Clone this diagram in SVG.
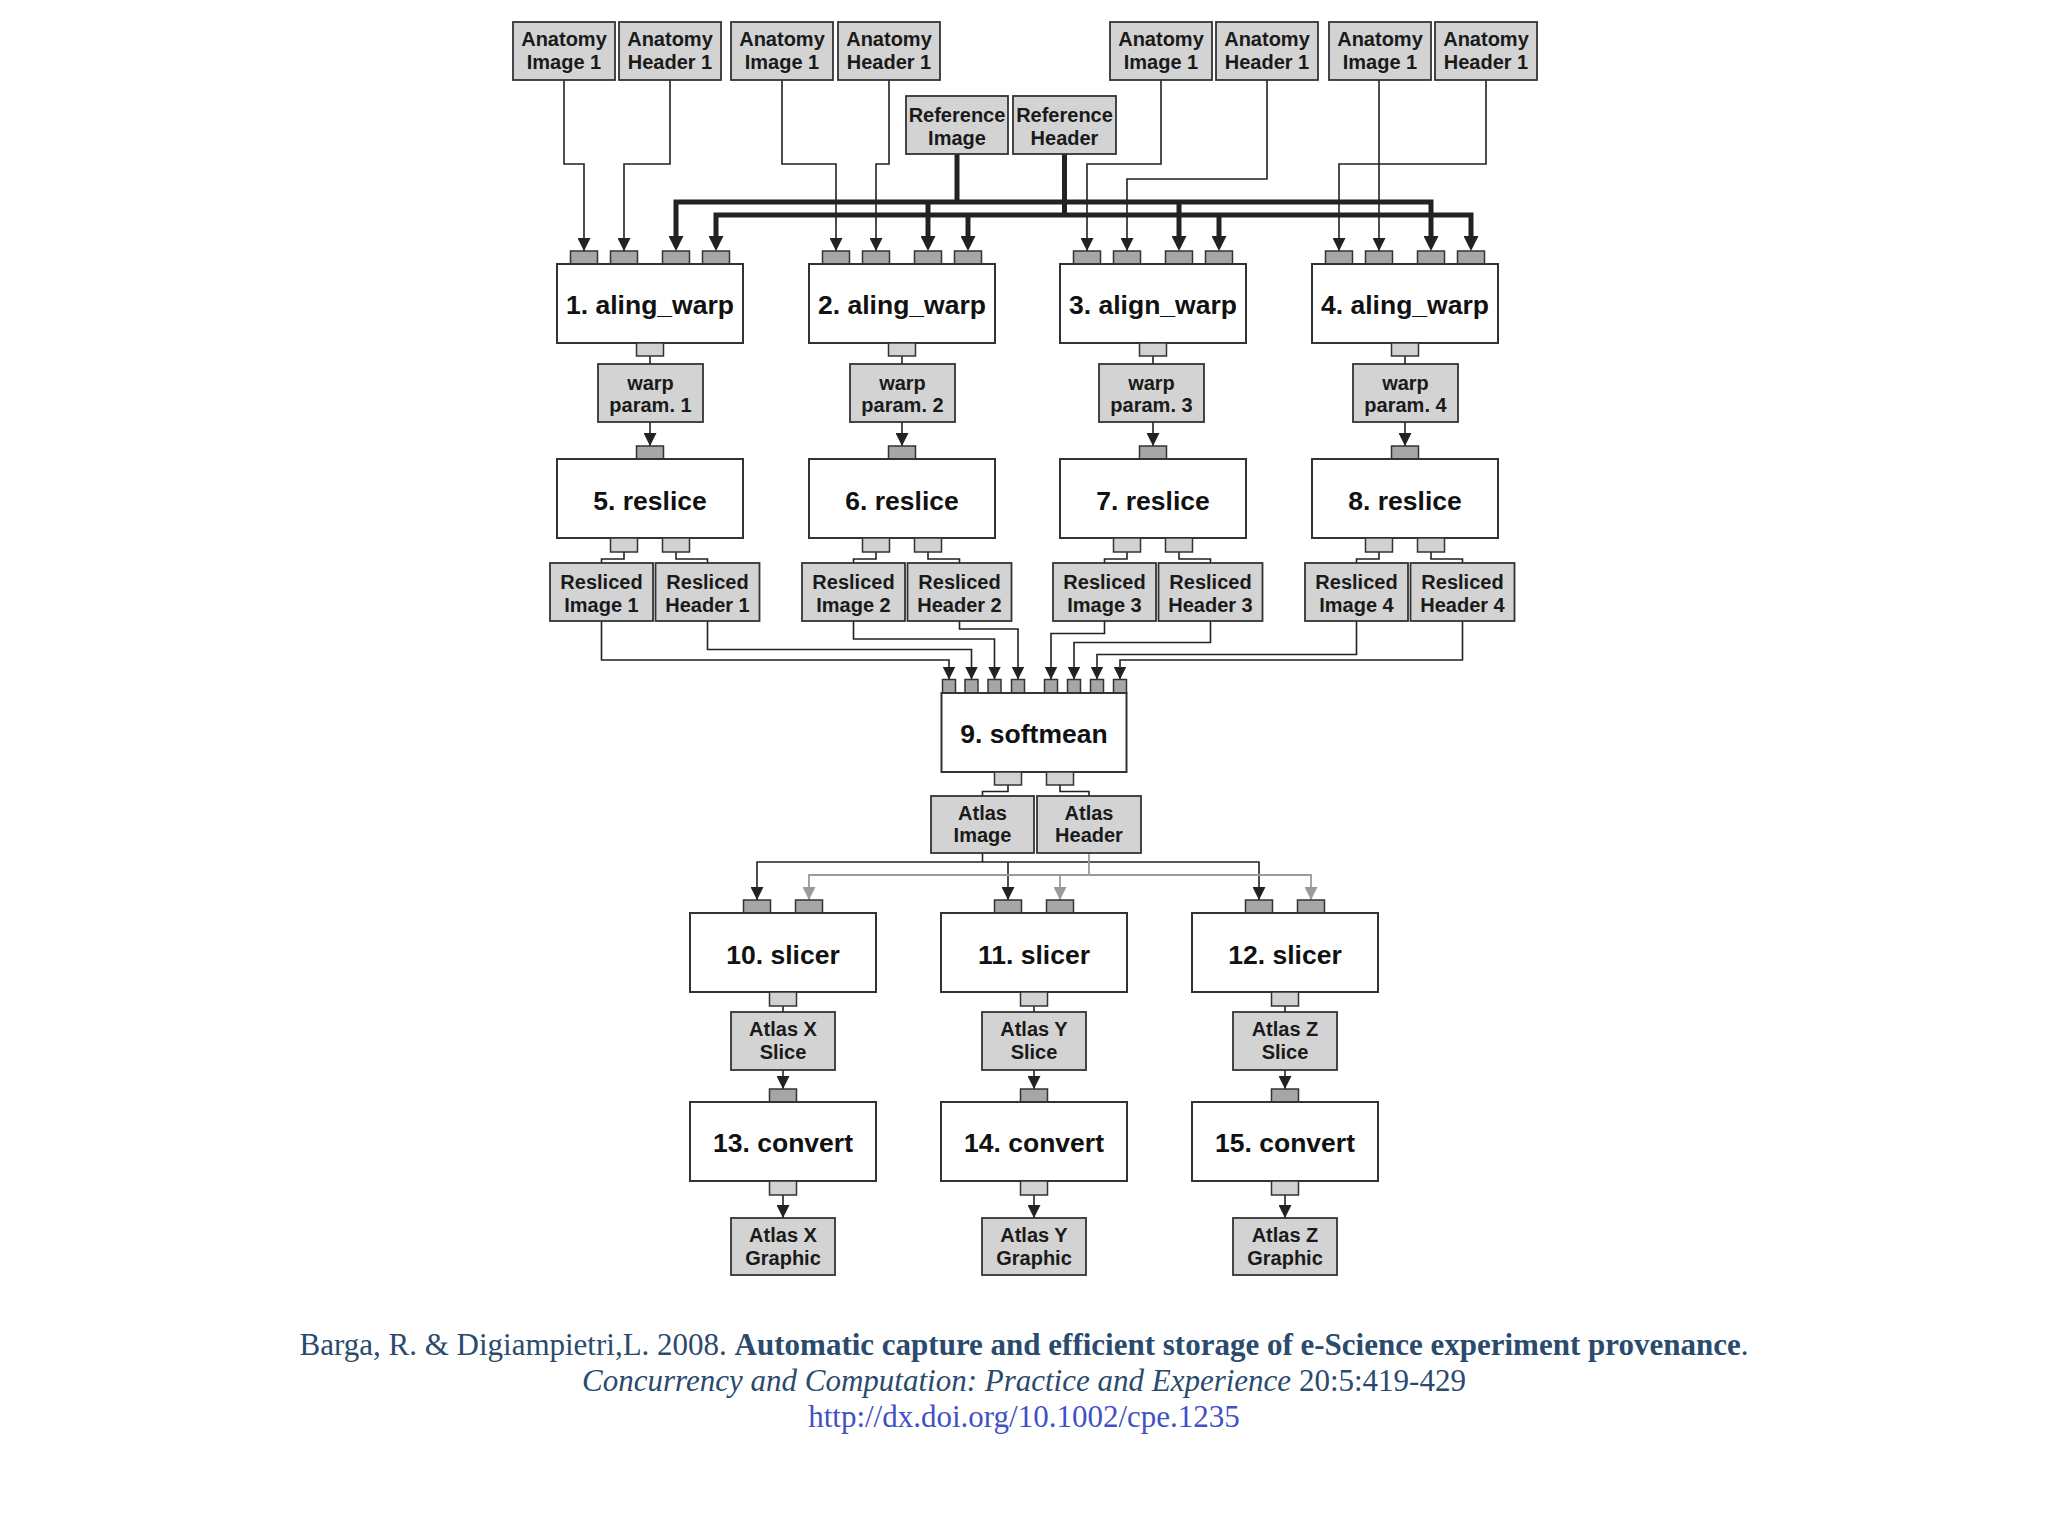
<svg xmlns="http://www.w3.org/2000/svg" width="2048" height="1536" viewBox="0 0 2048 1536">
<style>
.d{fill:#d3d3d3;stroke:#333;stroke-width:1.8}
.p{fill:#fff;stroke:#333;stroke-width:2}
.pi{fill:#a6a6a6;stroke:#333;stroke-width:1.5}
.po{fill:#d2d2d2;stroke:#333;stroke-width:1.5}
.t{font-family:"Liberation Sans",Arial,sans-serif;font-weight:bold;font-size:20px;fill:#1a1a1a;text-anchor:middle}
.n{font-family:"Liberation Sans",Arial,sans-serif;font-weight:bold;font-size:26.5px;fill:#111;text-anchor:middle}
.l{fill:none;stroke:#222;stroke-width:1.6}
.la{fill:none;stroke:#222;stroke-width:1.6;marker-end:url(#a)}
.lb{fill:none;stroke:#222;stroke-width:1.6;marker-start:url(#a);marker-end:url(#a)}
.lt{fill:none;stroke:#222;stroke-width:5}
.lta{fill:none;stroke:#222;stroke-width:5;marker-end:url(#ta)}
.ltb{fill:none;stroke:#222;stroke-width:5;marker-start:url(#ta);marker-end:url(#ta)}
.lg{fill:none;stroke:#9a9a9a;stroke-width:1.8}
.lga{fill:none;stroke:#9a9a9a;stroke-width:1.8;marker-end:url(#ga)}
.lgb{fill:none;stroke:#9a9a9a;stroke-width:1.8;marker-start:url(#ga);marker-end:url(#ga)}
.c{font-family:"Liberation Serif","Times New Roman",serif;font-size:31px;fill:#2a4a6e;text-anchor:middle}
</style>
<defs>
<marker id="a" viewBox="0 0 13 13" refX="13" refY="6.5" markerWidth="13" markerHeight="13" markerUnits="userSpaceOnUse" orient="auto-start-reverse"><path d="M0,0 L13,6.5 L0,13 z" fill="#222"/></marker>
<marker id="ga" viewBox="0 0 13 13" refX="13" refY="6.5" markerWidth="13" markerHeight="13" markerUnits="userSpaceOnUse" orient="auto-start-reverse"><path d="M0,0 L13,6.5 L0,13 z" fill="#9a9a9a"/></marker>
<marker id="ta" viewBox="0 0 15 15" refX="10" refY="7.5" markerWidth="15" markerHeight="15" markerUnits="userSpaceOnUse" orient="auto-start-reverse"><path d="M0,0 L15,7.5 L0,15 z" fill="#222"/></marker>
</defs>
<rect width="2048" height="1536" fill="#fff"/>

<g id="connectors">
<path class="la" d="M564,80 V164 H584 V251"/>
<path class="la" d="M670,80 V164 H624 V251"/>
<path class="la" d="M782,80 V164 H836 V251"/>
<path class="la" d="M889,80 V164 H876 V251"/>
<path class="la" d="M1161,80 V164 H1087 V251"/>
<path class="la" d="M1267,80 V179 H1127 V251"/>
<path class="la" d="M1379,80 V251"/>
<path class="la" d="M1486,80 V164 H1339 V251"/>
<path class="lt" d="M957,154 V202"/>
<path class="lt" d="M1064.5,154 V215"/>
<path class="ltb" d="M676,246 V202 H1431 V246"/>
<path class="lta" d="M928,202 V246"/>
<path class="lta" d="M1179,202 V246"/>
<path class="ltb" d="M716,246 V215 H1471 V246"/>
<path class="lta" d="M968,215 V246"/>
<path class="lta" d="M1219,215 V246"/>
<path class="l" d="M650,356 V364 M902,356 V364 M1153,356 V364 M1405,356 V364"/>
<path class="la" d="M650,422 V446"/>
<path class="la" d="M902,422 V446"/>
<path class="la" d="M1153,422 V446"/>
<path class="la" d="M1405,422 V446"/>
<path class="l" d="M624,552 V559 H601.5 V563 M676,552 V559 H707.5 V563"/>
<path class="l" d="M876,552 V559 H853.5 V563 M928,552 V559 H959.5 V563"/>
<path class="l" d="M1127,552 V559 H1104.5 V563 M1179,552 V559 H1210.5 V563"/>
<path class="l" d="M1379,552 V559 H1356.5 V563 M1431,552 V559 H1462.5 V563"/>
<path class="la" d="M601.5,621 V660 H949 V679.5"/>
<path class="la" d="M707.5,621 V649.5 H971.5 V679.5"/>
<path class="la" d="M853.5,621 V639 H994.5 V679.5"/>
<path class="la" d="M959.5,621 V629 H1018 V679.5"/>
<path class="la" d="M1104.5,621 V633.5 H1051 V679.5"/>
<path class="la" d="M1210.5,621 V642.5 H1074 V679.5"/>
<path class="la" d="M1356.5,621 V654.5 H1097 V679.5"/>
<path class="la" d="M1462.5,621 V660 H1120 V679.5"/>
<path class="l" d="M1008,785 V791.5 H982.5 V796 M1060,785 V791.5 H1089 V796"/>
<path class="l" d="M982.5,853 V862"/>
<path class="lb" d="M757,900 V862 H1259 V900"/>
<path class="la" d="M1008,862 V900"/>
<path class="lg" d="M1089,853 V875"/>
<path class="lgb" d="M809,900 V875 H1311 V900"/>
<path class="lga" d="M1060,875 V900"/>
<path class="l" d="M783,1006 V1012 M1034,1006 V1012 M1285,1006 V1012"/>
<path class="la" d="M783,1070 V1089"/>
<path class="la" d="M1034,1070 V1089"/>
<path class="la" d="M1285,1070 V1089"/>
<path class="la" d="M783,1195 V1218"/>
<path class="la" d="M1034,1195 V1218"/>
<path class="la" d="M1285,1195 V1218"/>
</g>

<g id="anatomy-image-1a"><rect class="d" x="513" y="22" width="102" height="58"/><text class="t" x="564" y="45.5">Anatomy</text><text class="t" x="564" y="68.5">Image 1</text></g>
<g id="anatomy-header-1a"><rect class="d" x="619" y="22" width="102" height="58"/><text class="t" x="670" y="45.5">Anatomy</text><text class="t" x="670" y="68.5">Header 1</text></g>
<g id="anatomy-image-1b"><rect class="d" x="731" y="22" width="102" height="58"/><text class="t" x="782" y="45.5">Anatomy</text><text class="t" x="782" y="68.5">Image 1</text></g>
<g id="anatomy-header-1b"><rect class="d" x="838" y="22" width="102" height="58"/><text class="t" x="889" y="45.5">Anatomy</text><text class="t" x="889" y="68.5">Header 1</text></g>
<g id="anatomy-image-1c"><rect class="d" x="1110" y="22" width="102" height="58"/><text class="t" x="1161" y="45.5">Anatomy</text><text class="t" x="1161" y="68.5">Image 1</text></g>
<g id="anatomy-header-1c"><rect class="d" x="1216" y="22" width="102" height="58"/><text class="t" x="1267" y="45.5">Anatomy</text><text class="t" x="1267" y="68.5">Header 1</text></g>
<g id="anatomy-image-1d"><rect class="d" x="1329" y="22" width="102" height="58"/><text class="t" x="1380" y="45.5">Anatomy</text><text class="t" x="1380" y="68.5">Image 1</text></g>
<g id="anatomy-header-1d"><rect class="d" x="1435" y="22" width="102" height="58"/><text class="t" x="1486" y="45.5">Anatomy</text><text class="t" x="1486" y="68.5">Header 1</text></g>
<g id="reference-image"><rect class="d" x="906" y="96" width="102" height="58"/><text class="t" x="957" y="121.5">Reference</text><text class="t" x="957" y="144.5">Image</text></g>
<g id="reference-header"><rect class="d" x="1013" y="96" width="103" height="58"/><text class="t" x="1064.5" y="121.5">Reference</text><text class="t" x="1064.5" y="144.5">Header</text></g>

<g id="n1"><rect class="pi" x="570.5" y="251" width="27" height="13"/><rect class="pi" x="610.5" y="251" width="27" height="13"/><rect class="pi" x="662.5" y="251" width="27" height="13"/><rect class="pi" x="702.5" y="251" width="27" height="13"/><rect class="p" x="557" y="264" width="186" height="79"/><rect class="po" x="636.5" y="343" width="27" height="13"/><text class="n" x="650" y="314">1. aling_warp</text></g>
<g id="n2"><rect class="pi" x="822.5" y="251" width="27" height="13"/><rect class="pi" x="862.5" y="251" width="27" height="13"/><rect class="pi" x="914.5" y="251" width="27" height="13"/><rect class="pi" x="954.5" y="251" width="27" height="13"/><rect class="p" x="809" y="264" width="186" height="79"/><rect class="po" x="888.5" y="343" width="27" height="13"/><text class="n" x="902" y="314">2. aling_warp</text></g>
<g id="n3"><rect class="pi" x="1073.5" y="251" width="27" height="13"/><rect class="pi" x="1113.5" y="251" width="27" height="13"/><rect class="pi" x="1165.5" y="251" width="27" height="13"/><rect class="pi" x="1205.5" y="251" width="27" height="13"/><rect class="p" x="1060" y="264" width="186" height="79"/><rect class="po" x="1139.5" y="343" width="27" height="13"/><text class="n" x="1153" y="314">3. align_warp</text></g>
<g id="n4"><rect class="pi" x="1325.5" y="251" width="27" height="13"/><rect class="pi" x="1365.5" y="251" width="27" height="13"/><rect class="pi" x="1417.5" y="251" width="27" height="13"/><rect class="pi" x="1457.5" y="251" width="27" height="13"/><rect class="p" x="1312" y="264" width="186" height="79"/><rect class="po" x="1391.5" y="343" width="27" height="13"/><text class="n" x="1405" y="314">4. aling_warp</text></g>

<g id="warp-param-1"><rect class="d" x="598" y="364" width="105" height="58"/><text class="t" x="650.5" y="389.5">warp</text><text class="t" x="650.5" y="412">param. 1</text></g>
<g id="warp-param-2"><rect class="d" x="850" y="364" width="105" height="58"/><text class="t" x="902.5" y="389.5">warp</text><text class="t" x="902.5" y="412">param. 2</text></g>
<g id="warp-param-3"><rect class="d" x="1099" y="364" width="105" height="58"/><text class="t" x="1151.5" y="389.5">warp</text><text class="t" x="1151.5" y="412">param. 3</text></g>
<g id="warp-param-4"><rect class="d" x="1353" y="364" width="105" height="58"/><text class="t" x="1405.5" y="389.5">warp</text><text class="t" x="1405.5" y="412">param. 4</text></g>

<g id="n5"><rect class="pi" x="636.5" y="446" width="27" height="13"/><rect class="p" x="557" y="459" width="186" height="79"/><rect class="po" x="610.5" y="538" width="27" height="14"/><rect class="po" x="662.5" y="538" width="27" height="14"/><text class="n" x="650" y="509.5">5. reslice</text></g>
<g id="n6"><rect class="pi" x="888.5" y="446" width="27" height="13"/><rect class="p" x="809" y="459" width="186" height="79"/><rect class="po" x="862.5" y="538" width="27" height="14"/><rect class="po" x="914.5" y="538" width="27" height="14"/><text class="n" x="902" y="509.5">6. reslice</text></g>
<g id="n7"><rect class="pi" x="1139.5" y="446" width="27" height="13"/><rect class="p" x="1060" y="459" width="186" height="79"/><rect class="po" x="1113.5" y="538" width="27" height="14"/><rect class="po" x="1165.5" y="538" width="27" height="14"/><text class="n" x="1153" y="509.5">7. reslice</text></g>
<g id="n8"><rect class="pi" x="1391.5" y="446" width="27" height="13"/><rect class="p" x="1312" y="459" width="186" height="79"/><rect class="po" x="1365.5" y="538" width="27" height="14"/><rect class="po" x="1417.5" y="538" width="27" height="14"/><text class="n" x="1405" y="509.5">8. reslice</text></g>

<g id="resliced-image-1"><rect class="d" x="550" y="563" width="103" height="58"/><text class="t" x="601.5" y="588.5">Resliced</text><text class="t" x="601.5" y="611.5">Image 1</text></g>
<g id="resliced-header-1"><rect class="d" x="655.5" y="563" width="104" height="58"/><text class="t" x="707.5" y="588.5">Resliced</text><text class="t" x="707.5" y="611.5">Header 1</text></g>
<g id="resliced-image-2"><rect class="d" x="802" y="563" width="103" height="58"/><text class="t" x="853.5" y="588.5">Resliced</text><text class="t" x="853.5" y="611.5">Image 2</text></g>
<g id="resliced-header-2"><rect class="d" x="907.5" y="563" width="104" height="58"/><text class="t" x="959.5" y="588.5">Resliced</text><text class="t" x="959.5" y="611.5">Header 2</text></g>
<g id="resliced-image-3"><rect class="d" x="1053" y="563" width="103" height="58"/><text class="t" x="1104.5" y="588.5">Resliced</text><text class="t" x="1104.5" y="611.5">Image 3</text></g>
<g id="resliced-header-3"><rect class="d" x="1158.5" y="563" width="104" height="58"/><text class="t" x="1210.5" y="588.5">Resliced</text><text class="t" x="1210.5" y="611.5">Header 3</text></g>
<g id="resliced-image-4"><rect class="d" x="1305" y="563" width="103" height="58"/><text class="t" x="1356.5" y="588.5">Resliced</text><text class="t" x="1356.5" y="611.5">Image 4</text></g>
<g id="resliced-header-4"><rect class="d" x="1410.5" y="563" width="104" height="58"/><text class="t" x="1462.5" y="588.5">Resliced</text><text class="t" x="1462.5" y="611.5">Header 4</text></g>

<g id="n9"><rect class="pi" x="942.5" y="679.5" width="13" height="13.5"/><rect class="pi" x="965" y="679.5" width="13" height="13.5"/><rect class="pi" x="988" y="679.5" width="13" height="13.5"/><rect class="pi" x="1011.5" y="679.5" width="13" height="13.5"/><rect class="pi" x="1044.5" y="679.5" width="13" height="13.5"/><rect class="pi" x="1067.5" y="679.5" width="13" height="13.5"/><rect class="pi" x="1090.5" y="679.5" width="13" height="13.5"/><rect class="pi" x="1113.5" y="679.5" width="13" height="13.5"/><rect class="p" x="941.5" y="693" width="185" height="79"/><rect class="po" x="994.5" y="772" width="27" height="13"/><rect class="po" x="1046.5" y="772" width="27" height="13"/><text class="n" x="1034" y="743">9. softmean</text></g>

<g id="atlas-image"><rect class="d" x="931" y="796" width="103" height="57"/><text class="t" x="982.5" y="819.5">Atlas</text><text class="t" x="982.5" y="842">Image</text></g>
<g id="atlas-header"><rect class="d" x="1037" y="796" width="104" height="57"/><text class="t" x="1089" y="819.5">Atlas</text><text class="t" x="1089" y="842">Header</text></g>

<g id="n10"><rect class="pi" x="743.5" y="900" width="27" height="13"/><rect class="pi" x="795.5" y="900" width="27" height="13"/><rect class="p" x="690" y="913" width="186" height="79"/><rect class="po" x="769.5" y="992" width="27" height="14"/><text class="n" x="783" y="963.5">10. slicer</text></g>
<g id="n11"><rect class="pi" x="994.5" y="900" width="27" height="13"/><rect class="pi" x="1046.5" y="900" width="27" height="13"/><rect class="p" x="941" y="913" width="186" height="79"/><rect class="po" x="1020.5" y="992" width="27" height="14"/><text class="n" x="1034" y="963.5">11. slicer</text></g>
<g id="n12"><rect class="pi" x="1245.5" y="900" width="27" height="13"/><rect class="pi" x="1297.5" y="900" width="27" height="13"/><rect class="p" x="1192" y="913" width="186" height="79"/><rect class="po" x="1271.5" y="992" width="27" height="14"/><text class="n" x="1285" y="963.5">12. slicer</text></g>

<g id="atlas-x-slice"><rect class="d" x="731" y="1012" width="104" height="58"/><text class="t" x="783" y="1035.5">Atlas X</text><text class="t" x="783" y="1058.5">Slice</text></g>
<g id="atlas-y-slice"><rect class="d" x="982" y="1012" width="104" height="58"/><text class="t" x="1034" y="1035.5">Atlas Y</text><text class="t" x="1034" y="1058.5">Slice</text></g>
<g id="atlas-z-slice"><rect class="d" x="1233" y="1012" width="104" height="58"/><text class="t" x="1285" y="1035.5">Atlas Z</text><text class="t" x="1285" y="1058.5">Slice</text></g>

<g id="n13"><rect class="pi" x="769.5" y="1089" width="27" height="13"/><rect class="p" x="690" y="1102" width="186" height="79"/><rect class="po" x="769.5" y="1181" width="27" height="14"/><text class="n" x="783" y="1152">13. convert</text></g>
<g id="n14"><rect class="pi" x="1020.5" y="1089" width="27" height="13"/><rect class="p" x="941" y="1102" width="186" height="79"/><rect class="po" x="1020.5" y="1181" width="27" height="14"/><text class="n" x="1034" y="1152">14. convert</text></g>
<g id="n15"><rect class="pi" x="1271.5" y="1089" width="27" height="13"/><rect class="p" x="1192" y="1102" width="186" height="79"/><rect class="po" x="1271.5" y="1181" width="27" height="14"/><text class="n" x="1285" y="1152">15. convert</text></g>

<g id="atlas-x-graphic"><rect class="d" x="731" y="1218" width="104" height="57"/><text class="t" x="783" y="1241.5">Atlas X</text><text class="t" x="783" y="1265">Graphic</text></g>
<g id="atlas-y-graphic"><rect class="d" x="982" y="1218" width="104" height="57"/><text class="t" x="1034" y="1241.5">Atlas Y</text><text class="t" x="1034" y="1265">Graphic</text></g>
<g id="atlas-z-graphic"><rect class="d" x="1233" y="1218" width="104" height="57"/><text class="t" x="1285" y="1241.5">Atlas Z</text><text class="t" x="1285" y="1265">Graphic</text></g>

<g id="citation">
<text class="c" x="1024" y="1355">Barga, R. &amp; Digiampietri,L. 2008. <tspan font-weight="bold">Automatic capture and efficient storage of e-Science experiment provenance</tspan>.</text>
<text class="c" x="1024" y="1390.5"><tspan font-style="italic">Concurrency and Computation: Practice and Experience</tspan> 20:5:419-429</text>
<text class="c" x="1024" y="1427" style="fill:#3f51c5">http://dx.doi.org/10.1002/cpe.1235</text>
</g>
</svg>
